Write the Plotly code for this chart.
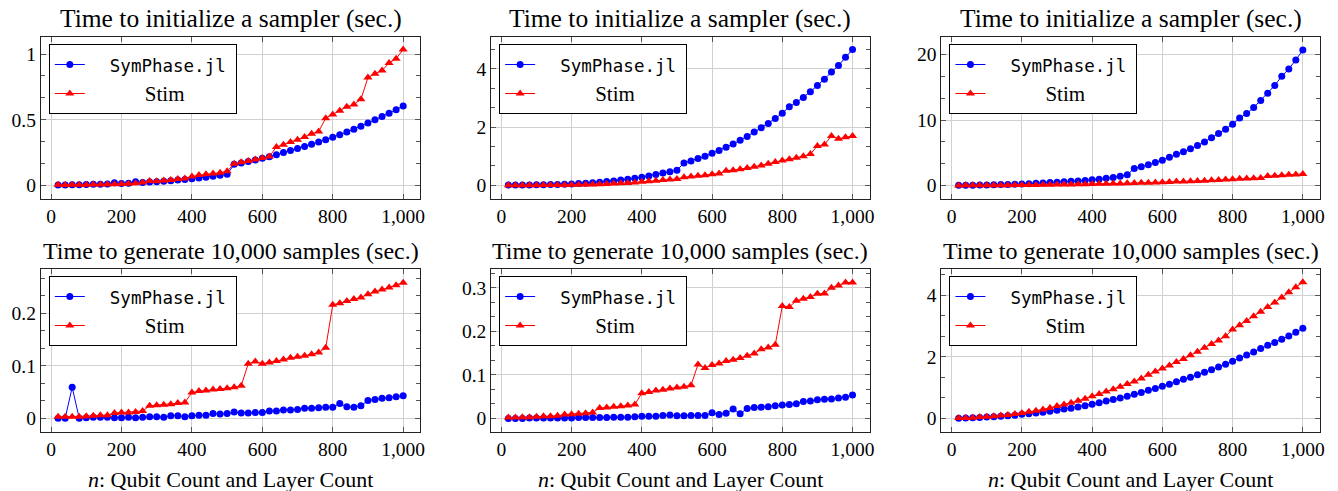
import plotly.graph_objects as go

# ---------------- data ----------------
n_values = [20, 40, 60, 80, 100, 120, 140, 160, 180, 200,
            220, 240, 260, 280, 300, 320, 340, 360, 380, 400,
            420, 440, 460, 480, 500, 520, 540, 560, 580, 600,
            620, 640, 660, 680, 700, 720, 740, 760, 780, 800,
            820, 840, 860, 880, 900, 920, 940, 960, 980, 1000]

# Panel 1: init time (sec.)
init1_symphase = [0.002, 0.003, 0.004, 0.005, 0.006, 0.008, 0.009, 0.011, 0.020, 0.014,
                  0.016, 0.027, 0.022, 0.025, 0.028, 0.031, 0.035, 0.040, 0.045, 0.050,
                  0.056, 0.062, 0.069, 0.076, 0.084, 0.160, 0.170, 0.182, 0.194, 0.206,
                  0.218, 0.234, 0.250, 0.265, 0.280, 0.296, 0.313, 0.330, 0.348, 0.366,
                  0.386, 0.406, 0.428, 0.450, 0.474, 0.500, 0.524, 0.550, 0.576, 0.605]
init1_stim = [0.004, 0.003, 0.004, 0.004, 0.005, 0.006, 0.007, 0.008, 0.009, 0.011,
              0.013, 0.016, 0.022, 0.034, 0.032, 0.036, 0.040, 0.048, 0.052, 0.068,
              0.078, 0.084, 0.090, 0.096, 0.108, 0.165, 0.175, 0.185, 0.196, 0.208,
              0.220, 0.292, 0.310, 0.330, 0.348, 0.368, 0.393, 0.410, 0.512, 0.540,
              0.568, 0.598, 0.615, 0.655, 0.822, 0.850, 0.875, 0.932, 0.965, 1.035]

# Panel 2
init2_symphase = [0.01, 0.01, 0.01, 0.01, 0.02, 0.02, 0.03, 0.03, 0.04, 0.05,
                  0.06, 0.07, 0.09, 0.11, 0.13, 0.15, 0.18, 0.21, 0.24, 0.28,
                  0.32, 0.37, 0.42, 0.47, 0.52, 0.77, 0.84, 0.92, 1.00, 1.10,
                  1.20, 1.31, 1.42, 1.55, 1.68, 1.83, 1.98, 2.13, 2.30, 2.48,
                  2.70, 2.85, 3.02, 3.22, 3.43, 3.65, 3.90, 4.12, 4.40, 4.67]
init2_stim = [0.00, 0.00, 0.00, 0.00, 0.00, 0.01, 0.01, 0.01, 0.01, 0.02,
              0.02, 0.03, 0.03, 0.04, 0.05, 0.06, 0.07, 0.08, 0.10, 0.12,
              0.14, 0.16, 0.18, 0.20, 0.22, 0.28, 0.30, 0.33, 0.35, 0.38,
              0.41, 0.50, 0.52, 0.55, 0.60, 0.64, 0.68, 0.74, 0.80, 0.85,
              0.90, 0.95, 1.00, 1.08, 1.35, 1.40, 1.70, 1.60, 1.65, 1.70]

# Panel 3
init3_symphase = [0.01, 0.02, 0.03, 0.05, 0.07, 0.09, 0.12, 0.15, 0.19, 0.23,
                  0.27, 0.32, 0.38, 0.44, 0.50, 0.56, 0.62, 0.68, 0.76, 0.85,
                  0.95, 1.08, 1.22, 1.40, 1.62, 2.60, 2.85, 3.15, 3.50, 3.85,
                  4.30, 4.75, 5.15, 5.60, 6.10, 6.65, 7.30, 7.95, 8.60, 9.35,
                  10.3, 11.0, 11.9, 13.0, 14.1, 15.3, 16.7, 17.8, 19.2, 20.7]
init3_stim = [0.00, 0.01, 0.01, 0.02, 0.02, 0.03, 0.03, 0.04, 0.05, 0.06,
              0.07, 0.08, 0.09, 0.10, 0.12, 0.13, 0.15, 0.17, 0.19, 0.22,
              0.24, 0.26, 0.28, 0.30, 0.33, 0.36, 0.39, 0.42, 0.45, 0.49,
              0.52, 0.58, 0.61, 0.65, 0.69, 0.73, 0.77, 0.81, 0.90, 0.95,
              1.00, 1.05, 1.10, 1.15, 1.42, 1.48, 1.56, 1.62, 1.68, 1.75]

# Panel 4: sampling time (sec.)
samp1_symphase = [0.000, 0.000, 0.059, 0.000, 0.001, 0.002, 0.002, 0.002, 0.001, 0.001,
                  0.002, 0.001, 0.002, 0.003, 0.003, 0.002, 0.005, 0.005, 0.003, 0.005,
                  0.006, 0.006, 0.009, 0.008, 0.009, 0.012, 0.010, 0.010, 0.011, 0.011,
                  0.014, 0.014, 0.016, 0.016, 0.017, 0.019, 0.019, 0.020, 0.021, 0.021,
                  0.028, 0.022, 0.021, 0.024, 0.034, 0.036, 0.038, 0.039, 0.041, 0.043]
samp1_stim = [0.003, 0.003, 0.003, 0.003, 0.004, 0.005, 0.006, 0.006, 0.010, 0.011,
              0.011, 0.012, 0.014, 0.024, 0.025, 0.026, 0.027, 0.029, 0.030, 0.049,
              0.052, 0.053, 0.055, 0.056, 0.057, 0.059, 0.062, 0.104, 0.108, 0.104,
              0.106, 0.109, 0.112, 0.115, 0.117, 0.119, 0.122, 0.125, 0.134, 0.216,
              0.219, 0.223, 0.227, 0.230, 0.236, 0.241, 0.245, 0.249, 0.253, 0.258]

# Panel 5
samp2_symphase = [0.000, 0.000, 0.000, 0.001, 0.001, 0.001, 0.001, 0.001, 0.001, 0.001,
                  0.002, 0.002, 0.002, 0.002, 0.002, 0.003, 0.003, 0.003, 0.004, 0.005,
                  0.005, 0.005, 0.007, 0.008, 0.006, 0.006, 0.007, 0.007, 0.007, 0.013,
                  0.009, 0.012, 0.022, 0.011, 0.023, 0.025, 0.026, 0.027, 0.029, 0.031,
                  0.032, 0.034, 0.039, 0.040, 0.043, 0.044, 0.045, 0.047, 0.049, 0.054]
samp2_stim = [0.002, 0.002, 0.003, 0.003, 0.004, 0.005, 0.005, 0.006, 0.009, 0.010,
              0.011, 0.012, 0.014, 0.024, 0.025, 0.027, 0.028, 0.030, 0.032, 0.058,
              0.061, 0.064, 0.066, 0.069, 0.071, 0.073, 0.076, 0.124, 0.116, 0.123,
              0.126, 0.132, 0.135, 0.139, 0.144, 0.149, 0.159, 0.163, 0.169, 0.258,
              0.256, 0.270, 0.275, 0.279, 0.286, 0.287, 0.300, 0.305, 0.312, 0.312]

# Panel 6
samp3_symphase = [0.00, 0.01, 0.02, 0.03, 0.04, 0.05, 0.07, 0.08, 0.10, 0.13,
                  0.15, 0.17, 0.20, 0.23, 0.26, 0.30, 0.33, 0.37, 0.41, 0.46,
                  0.51, 0.56, 0.61, 0.66, 0.72, 0.78, 0.84, 0.91, 0.97, 1.04,
                  1.11, 1.19, 1.27, 1.34, 1.42, 1.50, 1.58, 1.67, 1.76, 1.86,
                  1.96, 2.06, 2.16, 2.27, 2.38, 2.47, 2.57, 2.68, 2.80, 2.93]
samp3_stim = [0.01, 0.01, 0.02, 0.04, 0.05, 0.07, 0.09, 0.11, 0.14, 0.17,
              0.21, 0.25, 0.29, 0.34, 0.40, 0.45, 0.51, 0.57, 0.64, 0.72,
              0.79, 0.87, 0.95, 1.03, 1.12, 1.20, 1.30, 1.42, 1.52, 1.62,
              1.72, 1.83, 1.93, 2.05, 2.17, 2.30, 2.42, 2.53, 2.67, 2.89,
              3.03, 3.17, 3.32, 3.47, 3.62, 3.77, 3.93, 4.10, 4.27, 4.43]

panel_titles = ["Time to initialize a sampler (sec.)"] * 3 + ["Time to generate 10,000 samples (sec.)"] * 3
x_label = "<i>n</i>: Qubit Count and Layer Count"
x_ticks = [0, 200, 400, 600, 800, 1000]
series_sym = [init1_symphase, init2_symphase, init3_symphase, samp1_symphase, samp2_symphase, samp3_symphase]
series_stim = [init1_stim, init2_stim, init3_stim, samp1_stim, samp2_stim, samp3_stim]
y_major = [0.5, 2, 10, 0.1, 0.1, 2]
y_ranges = [[-0.104, 1.13], [-0.47, 5.10], [-2.08, 22.7], [-0.026, 0.284], [-0.031, 0.343], [-0.445, 4.86]]

# ---------------- layout helpers ----------------
W, H = 1338, 491
cols = [(41, 422), (493, 873), (945, 1325)]
rows = [(37, 199), (269, 432)]
title_sizes = [25.5, 24]


def px(x):
    return x / W


def py(y):
    return 1 - y / H


SERIF = "Liberation Serif"
BLUE = "#0000ff"
RED = "#ff0000"
GRID = "#d0d0d0"
TICKC = "#555555"
NB = "\u00a0"

fig = go.Figure()
layout = dict(
    width=W, height=H, margin=dict(l=0, r=0, t=0, b=0),
    paper_bgcolor="white", plot_bgcolor="white",
    font=dict(family=SERIF, size=19, color="black"),
    annotations=[],
)

for i in range(6):
    r, c = divmod(i, 3)
    x0, x1 = cols[c]
    y0, y1 = rows[r]
    k = "" if i == 0 else str(i + 1)
    xa, ya = "x" + k, "y" + k
    lg = "legend" + k
    fig.add_trace(go.Scatter(
        x=n_values, y=series_sym[i], xaxis=xa, yaxis=ya, legend=lg,
        name=NB * 4 + '<span style="font-family:DejaVu Sans Mono;font-size:17.5px">SymPhase.jl</span>' + NB,
        mode="lines+markers", line=dict(color=BLUE, width=1),
        marker=dict(color=BLUE, size=7, symbol="circle"),
        legendgroup="a" + k))
    fig.add_trace(go.Scatter(
        x=n_values, y=series_stim[i], xaxis=xa, yaxis=ya, legend=lg,
        name=NB * 11 + '<span style="font-size:21px">Stim</span>',
        mode="lines+markers", line=dict(color=RED, width=1),
        marker=dict(color=RED, size=8, symbol="triangle-up"),
        legendgroup="b" + k))

    layout["xaxis" + k] = dict(
        domain=[px(x0), px(x1)], anchor=ya, range=[-29, 1049],
        tickmode="array", tickvals=x_ticks, tickformat=",",
        ticks="inside", ticklen=5, tickcolor=TICKC, tickwidth=1,
        showline=True, linecolor="#222222", linewidth=1, mirror="ticks",
        showgrid=True, gridcolor=GRID, gridwidth=1, zeroline=False,
        tickfont=dict(family=SERIF, size=19.5, color="black"),
    )
    layout["yaxis" + k] = dict(
        domain=[py(y1), py(y0)], anchor=xa, range=y_ranges[i],
        tick0=0, dtick=y_major[i],
        ticks="inside", ticklen=5, tickcolor=TICKC, tickwidth=1,
        minor=dict(dtick=y_major[i] / 3, ticks="inside", ticklen=4, tickcolor=TICKC, showgrid=False),
        showline=True, linecolor="#222222", linewidth=1, mirror="ticks",
        showgrid=True, gridcolor=GRID, gridwidth=1, zeroline=False,
        tickfont=dict(family=SERIF, size=19.5, color="black"),
    )
    layout[lg] = dict(
        x=px(x0 + 8), y=py(y0 + 7), xanchor="left", yanchor="top",
        xref="paper", yref="paper",
        bgcolor="white", bordercolor="black", borderwidth=1,
        font=dict(family=SERIF, size=20, color="black"),
        tracegroupgap=0,
    )
    # panel title
    layout["annotations"].append(dict(
        text=panel_titles[i], x=px((x0 + x1) / 2), y=py(y0 - 18.5),
        xref="paper", yref="paper", xanchor="center", yanchor="middle",
        showarrow=False, font=dict(family=SERIF, size=title_sizes[r], color="black")))
    if r == 1:
        layout["annotations"].append(dict(
            text=x_label, x=px((x0 + x1) / 2), y=py(479),
            xref="paper", yref="paper", xanchor="center", yanchor="middle",
            showarrow=False, font=dict(family=SERIF, size=22, color="black")))

fig.update_layout(**layout)
# remove the default 8px page margin so the 1338x491 figure fills the window
fig.write_html("out.html", config={"displayModeBar": False},
               post_script="document.body.style.margin='0px';")
